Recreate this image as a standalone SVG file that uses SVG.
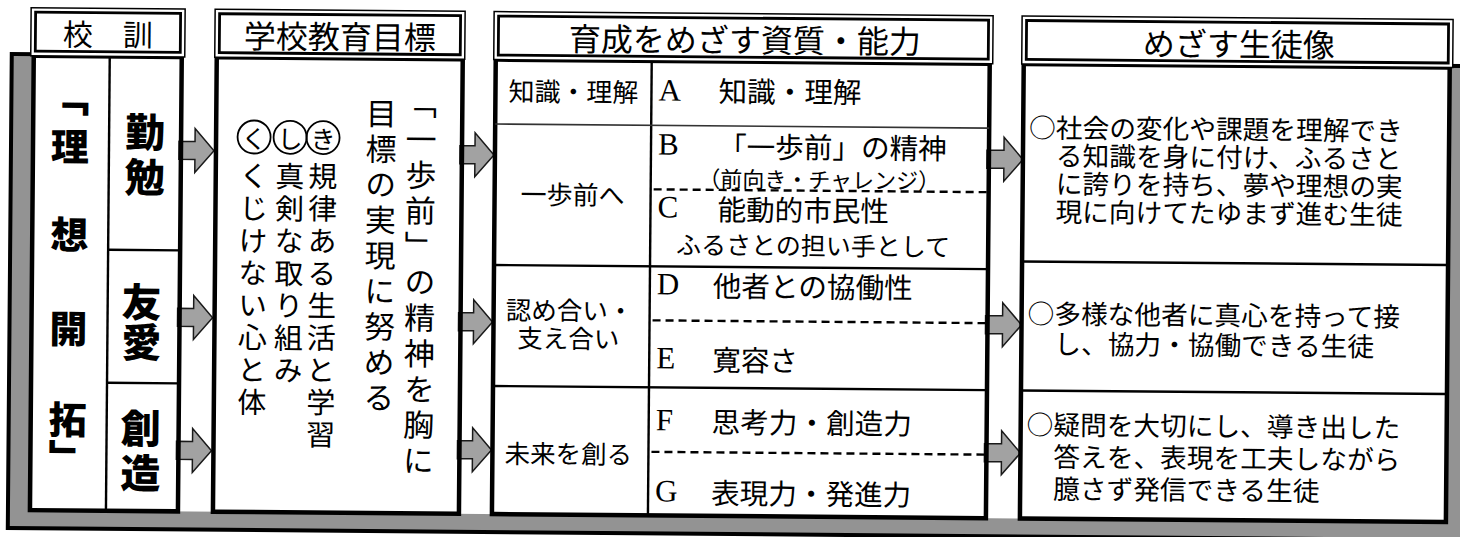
<svg xmlns="http://www.w3.org/2000/svg" width="1460" height="537" viewBox="0 0 1460 537">
<style>
.t{font-family:"Noto Sans CJK JP","Noto Sans CJK SC",sans-serif;fill:#000;dominant-baseline:central}
.m{text-anchor:middle}
.b{font-weight:900}
.v{writing-mode:vertical-rl}
.lat{font-family:"Liberation Serif",serif;fill:#000;dominant-baseline:central;font-size:31px}
.ho{fill:#fff;stroke:#000;stroke-width:1.5}
.hi{fill:none;stroke:#000;stroke-width:2.8}
.col{fill:none;stroke:#000;stroke-width:4.5}
.ln{stroke:#000;stroke-width:2.4;fill:none}
.dash{stroke:#000;stroke-width:2.4;stroke-dasharray:8 5;fill:none}
.arr{fill:#a2a2a2;stroke:#1a1a1a;stroke-width:1.5;stroke-linejoin:miter}
.circ{fill:none;stroke:#000;stroke-width:1.8}
</style>
<rect width="1460" height="537" fill="#fff"/>
<g transform="rotate(0.48 730 268)">
<g id="frame">
<rect x="10" y="60" width="1470" height="474" fill="#939393" stroke="#000" stroke-width="4"/>
<rect x="32" y="30" width="1416" height="486" fill="#fff"/>
</g>
<g id="connectors">
<path class="arr" d="M178,146 H194 V133 L213,155 L194,177 V164 H178 Z"/>
<path class="arr" d="M178,313 H194 V300 L213,322 L194,344 V331 H178 Z"/>
<path class="arr" d="M178,446 H194 V433 L213,455 L194,477 V464 H178 Z"/>
<path class="arr" d="M459,148 H474 V135 L493,157 L474,179 V166 H459 Z"/>
<path class="arr" d="M459,315 H474 V302 L493,324 L474,346 V333 H459 Z"/>
<path class="arr" d="M459,443 H474 V430 L493,452 L474,474 V461 H459 Z"/>
<path class="arr" d="M986,148 H1003 V135 L1022,157 L1003,179 V166 H986 Z"/>
<path class="arr" d="M986,313.5 H1003 V300.5 L1022,322.5 L1003,344.5 V331.5 H986 Z"/>
<path class="arr" d="M986,441.5 H1003 V428.5 L1022,450.5 L1003,472.5 V459.5 H986 Z"/>
</g>
<g id="kokun">
<rect class="col" x="32" y="61.5" width="148" height="454.5"/>
<line class="ln" x1="108" y1="61.5" x2="108" y2="516"/>
<line class="ln" x1="108" y1="255" x2="180" y2="255"/>
<line class="ln" x1="108" y1="388" x2="180" y2="388"/>
<rect class="ho" x="29" y="13.5" width="154" height="48"/>
<rect class="hi" x="33.5" y="18" width="145" height="39"/>
<text class="t m" x="106" y="38" font-size="30">校　訓</text>
<text class="t b v" x="69" font-size="38"><tspan y="84">「</tspan><tspan y="133">理</tspan><tspan y="221">想</tspan><tspan y="315">開</tspan><tspan y="406">拓」</tspan></text>
<text class="t m b" font-size="40"><tspan x="144" y="135">勤</tspan><tspan x="144" y="180">勉</tspan></text>
<text class="t m b" font-size="40"><tspan x="142" y="305">友</tspan><tspan x="142" y="345">愛</tspan></text>
<text class="t m b" font-size="40"><tspan x="142" y="431">創</tspan><tspan x="142" y="476">造</tspan></text>
</g>
<g id="mokuhyo">
<rect class="col" x="215" y="61.5" width="246" height="454.5"/>
<rect class="ho" x="213" y="13.5" width="250" height="48"/>
<rect class="hi" x="217.5" y="18" width="241" height="39"/>
<text class="t m" x="338" y="38" font-size="32">学校教育目標</text>
<text class="t v" font-size="31"><tspan x="420" y="90.5" letter-spacing="4.7">「一歩前」の精神を胸に</tspan><tspan x="380" y="100.5" letter-spacing="4.5">目標の実現に努める</tspan></text>
<circle class="circ" cx="253" cy="141" r="16.5"/>
<circle class="circ" cx="289" cy="141" r="16.5"/>
<circle class="circ" cx="322" cy="141" r="16.5"/>
<text class="t m" y="141" font-size="25"><tspan x="253">く</tspan><tspan x="289">し</tspan><tspan x="322">き</tspan></text>
<text class="t v" y="165" font-size="29" letter-spacing="3.3"><tspan x="322" y="165">規律ある生活と学習</tspan><tspan x="289" y="165">真剣な取り組み</tspan><tspan x="253" y="165">くじけない心と体</tspan></text>
</g>
<g id="shishitsu">
<rect class="col" x="494" y="61.5" width="494" height="454.5"/>
<line class="ln" x1="650" y1="61.5" x2="650" y2="516"/>
<line x1="494" y1="126" x2="988" y2="126" stroke="#333" stroke-width="1.6"/>
<line class="ln" x1="494" y1="267" x2="988" y2="267"/>
<line class="ln" x1="494" y1="388" x2="988" y2="388"/>
<line class="dash" x1="653" y1="190" x2="988" y2="190"/>
<line class="dash" x1="653" y1="321" x2="988" y2="321"/>
<line class="dash" x1="653" y1="452.5" x2="988" y2="452.5"/>
<rect class="ho" x="492" y="13.5" width="499" height="48"/>
<rect class="hi" x="496.5" y="18" width="490" height="39"/>
<text class="t m" x="743" y="38" font-size="32">育成をめざす資質・能力</text>
<text class="t m" x="572" y="91.3" font-size="26">知識・理解</text>
<text class="t m" x="572" y="194.3" font-size="26">一歩前へ</text>
<text class="t m" font-size="25.5"><tspan x="570" y="309.3">認め合い・</tspan><tspan x="569" y="337.3">支え合い</tspan></text>
<text class="t m" x="570" y="453.3" font-size="25.5">未来を創る</text>
<text class="lat" x="657" y="90.5">A</text>
<text class="t" x="717" y="89.5" font-size="28.6">知識・理解</text>
<text class="lat" x="657" y="144.5">B</text>
<text class="lat" x="657" y="207.4">C</text>
<text class="t" font-size="28.6"><tspan x="717" y="144.5">「一歩前」の精神</tspan><tspan x="818.5" y="177.4" text-anchor="middle" font-size="22">（前向き・チャレンジ）</tspan><tspan x="717" y="207.4">能動的市民性</tspan><tspan x="813" y="243.4" text-anchor="middle" font-size="25">ふるさとの担い手として</tspan></text>
<text class="lat" x="657" y="284.4">D</text>
<text class="t" x="713" y="284.4" font-size="28.6">他者との協働性</text>
<text class="lat" x="657" y="358.4">E</text>
<text class="t" x="713" y="358.4" font-size="28.6">寛容さ</text>
<text class="lat" x="657" y="420.4">F</text>
<text class="t" x="713" y="420.4" font-size="28.6">思考力・創造力</text>
<text class="lat" x="657" y="491.4">G</text>
<text class="t" x="713" y="491.4" font-size="28.6">表現力・発進力</text>
</g>
<g id="seitozo">
<rect class="col" x="1022" y="61.5" width="426" height="454.5"/>
<line class="ln" x1="1022" y1="259" x2="1448" y2="259"/>
<line class="ln" x1="1022" y1="388" x2="1448" y2="388"/>
<rect class="ho" x="1020" y="13.5" width="431" height="48"/>
<rect class="hi" x="1024.5" y="18" width="422" height="39"/>
<text class="t m" x="1237" y="38" font-size="32">めざす生徒像</text>
<text class="t" font-size="26.7"><tspan x="1028" y="123">○社会の変化や課題を理解でき</tspan><tspan x="1055" y="151">る知識を身に付け、ふるさと</tspan><tspan x="1055" y="179">に誇りを持ち、夢や理想の実</tspan><tspan x="1055" y="207">現に向けてたゆまず進む生徒</tspan></text>
<text class="t" font-size="26.7"><tspan x="1028" y="309">○多様な他者に真心を持って接</tspan><tspan x="1055" y="339">し、協力・協働できる生徒</tspan></text>
<text class="t" font-size="26.7"><tspan x="1028" y="420">○疑問を大切にし、導き出した</tspan><tspan x="1055" y="452">答えを、表現を工夫しながら</tspan><tspan x="1055" y="484">臆さず発信できる生徒</tspan></text>
</g>
</g>
</svg>
